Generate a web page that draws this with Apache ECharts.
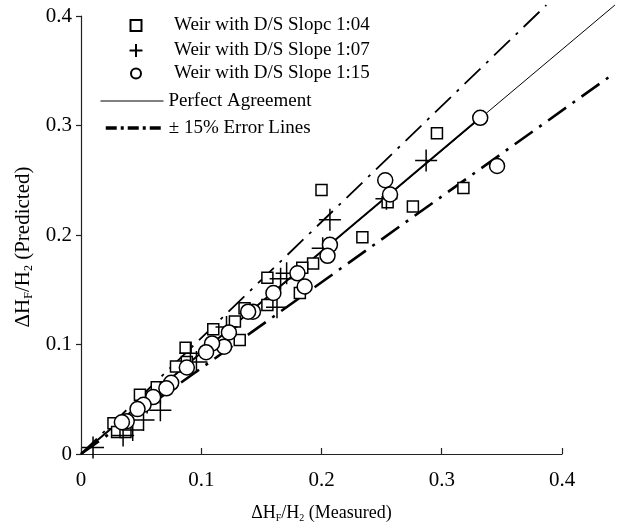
<!DOCTYPE html>
<html>
<head>
<meta charset="utf-8">
<script src="https://cdn.jsdelivr.net/npm/echarts@6/dist/echarts.min.js"></script>
<style>html,body{margin:0;padding:0;background:#fff}#c{width:624px;height:529px}</style>
</head>
<body>
<div id="c"></div>
<script>
// ---- data ----
const seriesNames = ['Weir with D/S Slopc 1:04', 'Weir with D/S Slope 1:07', 'Weir with D/S Slope 1:15', 'Perfect Agreement', '\u00b1 15% Error Lines'];
const xTicks = [0, 0.1, 0.2, 0.3, 0.4];
const yTicks = [0, 0.1, 0.2, 0.3, 0.4];
const slope104 = [[0.296,0.293],[0.318,0.243],[0.276,0.226],[0.255,0.230],[0.234,0.198],[0.200,0.241],[0.193,0.174],[0.184,0.170],[0.182,0.147],[0.155,0.161],[0.155,0.136],[0.136,0.133],[0.128,0.121],[0.132,0.104],[0.110,0.114],[0.087,0.097],[0.088,0.084],[0.079,0.080],[0.063,0.061],[0.049,0.054],[0.027,0.028],[0.030,0.020],[0.037,0.020]];
const slope107 = [[0.287,0.268],[0.254,0.233],[0.207,0.214],[0.201,0.188],[0.171,0.165],[0.166,0.160],[0.163,0.134],[0.121,0.116],[0.096,0.084],[0.091,0.092],[0.066,0.056],[0.055,0.047],[0.043,0.022],[0.035,0.017],[0.066,0.040],[0.052,0.031],[0.010,0.006]];
const slope115 = [[0.332,0.307],[0.346,0.263],[0.253,0.250],[0.257,0.237],[0.207,0.191],[0.205,0.181],[0.180,0.165],[0.186,0.153],[0.160,0.147],[0.143,0.130],[0.139,0.130],[0.123,0.111],[0.119,0.098],[0.109,0.101],[0.104,0.093],[0.088,0.079],[0.075,0.065],[0.071,0.060],[0.060,0.052],[0.052,0.045],[0.047,0.041],[0.038,0.030],[0.034,0.029]];
const perfectLine = [[0,0],[0.444,0.41]];
const perfectBold = [[0,0],[0.332,0.307]];
const upperError = [[0,0],[0.387,0.41]];
const lowerError = [[0,0],[0.44,0.345]];

const F = 'Liberation Serif';
const plusPath = 'path://M0,10L20,10M10,0L10,20';
const chart = echarts.init(document.getElementById('c'));

// plot area geometry
const G = { left: 81, right: 62, top: 16, bottom: 75 };
const xMax = xTicks[xTicks.length - 1];
const lineXMax = 0.45;               // wider hidden x axis so reference lines can run past 0.4
const plotW = 624 - G.left - G.right;
const lineGridRight = 624 - G.left - plotW * lineXMax / xMax;

function leg(name, left, top, w, h, pad, extra) {
  return Object.assign({
    data: [name], left: left, top: top, padding: 0, itemWidth: w, itemHeight: h,
    selectedMode: false,
    itemStyle: { color: '#fff', borderColor: '#000', borderWidth: 2 },
    textStyle: { fontFamily: F, fontSize: 19, color: '#000', lineHeight: 20, padding: [0,0,0,pad] }
  }, extra || {});
}
const noSym = { color: 'rgba(0,0,0,0)', borderColor: 'rgba(0,0,0,0)', borderWidth: 0, opacity: 0 };
const nameRichX = {
  a: { fontFamily: F, fontSize: 18, color: '#000', lineHeight: 20 },
  s: { fontFamily: F, fontSize: 10, color: '#000', lineHeight: 20, verticalAlign: 'bottom' }
};
const nameRichY = {
  a: { fontFamily: F, fontSize: 21, color: '#000', lineHeight: 23 },
  s: { fontFamily: F, fontSize: 12, color: '#000', lineHeight: 23, verticalAlign: 'bottom' }
};
const axisCommon = {
  type: 'value', min: xTicks[0], max: xMax, interval: 0.1,
  splitLine: { show: false },
  axisLine: { lineStyle: { color: '#222', width: 1.2 } },
  axisLabel: { fontFamily: F, fontSize: 21, color: '#000' },
  nameLocation: 'middle'
};
chart.setOption({
  animation: false,
  backgroundColor: '#fff',
  grid: [
    { left: G.left, right: G.right, top: G.top, bottom: G.bottom },
    { left: G.left, right: lineGridRight, top: G.top, bottom: G.bottom }
  ],
  legend: [
    leg(seriesNames[0], 129.5, 15.5, 11, 11, 27.5),
    leg(seriesNames[1], 128.5, 40.5, 13, 13, 26.5),
    leg(seriesNames[2], 130, 63.5, 10, 10, 28),
    leg(seriesNames[3], 100, 91, 63, 14, 0, { itemStyle: noSym, lineStyle: { color: '#000', width: 1 } }),
    leg(seriesNames[4], 104, 118, 58, 14, 0, { itemStyle: noSym, lineStyle: { color: '#000', width: 3.5, type: [11,4,3,4] } })
  ],
  xAxis: [
    Object.assign({}, axisCommon, {
      axisTick: { inside: true, length: 6, lineStyle: { color: '#222', width: 1.2 } },
      axisLabel: Object.assign({}, axisCommon.axisLabel, { margin: 16 }),
      name: '{a|\u0394H}{s|F}{a|/H}{s|2}{a| (Measured)}',
      nameGap: 49,
      nameTextStyle: { rich: nameRichX }
    }),
    { type: 'value', gridIndex: 1, min: 0, max: lineXMax, show: false }
  ],
  yAxis: [
    Object.assign({}, axisCommon, {
      min: yTicks[0], max: yTicks[yTicks.length-1],
      axisTick: { inside: false, length: 5, lineStyle: { color: '#222', width: 1.2 } },
      axisLabel: Object.assign({}, axisCommon.axisLabel, { margin: 9 }),
      name: '{a|\u0394H}{s|F}{a|/H}{s|2}{a| (Predicted)}',
      nameGap: 44,
      nameTextStyle: { rich: nameRichY, padding: [0,24,0,0] }
    }),
    { type: 'value', gridIndex: 1, min: yTicks[0], max: yTicks[yTicks.length-1], show: false }
  ],
  series: [
    { name: seriesNames[3], type: 'line', xAxisIndex: 1, yAxisIndex: 1, data: perfectLine, symbol: 'none', clip: false, silent: true, z: 1,
      lineStyle: { color: '#000', width: 1 } },
    { name: 'bold', type: 'line', xAxisIndex: 1, yAxisIndex: 1, data: perfectBold, symbol: 'none', clip: false, silent: true, z: 1,
      lineStyle: { color: '#000', width: 2 } },
    { name: seriesNames[4], type: 'line', xAxisIndex: 1, yAxisIndex: 1, data: upperError, symbol: 'none', clip: false, silent: true, z: 1,
      lineStyle: { color: '#000', width: 1.8, type: [22,8,3,8] } },
    { name: seriesNames[4], type: 'line', xAxisIndex: 1, yAxisIndex: 1, data: lowerError, symbol: 'none', clip: false, silent: true, z: 1,
      lineStyle: { color: '#000', width: 2.6, type: [22,8,3,8] } },
    { name: seriesNames[0], type: 'scatter', data: slope104, symbol: 'rect', symbolSize: 11, z: 3,
      itemStyle: { color: '#fff', borderColor: '#000', borderWidth: 1.5, opacity: 1 } },
    { name: seriesNames[1], type: 'scatter', data: slope107, symbol: plusPath, symbolSize: 22, z: 4,
      itemStyle: { color: '#fff', borderColor: '#000', borderWidth: 1.5, opacity: 1 } },
    { name: seriesNames[2], type: 'scatter', data: slope115, symbol: 'circle', symbolSize: 15, z: 5,
      itemStyle: { color: '#fff', borderColor: '#000', borderWidth: 1.5, opacity: 1 } }
  ]
});
</script>
</body>
</html>
